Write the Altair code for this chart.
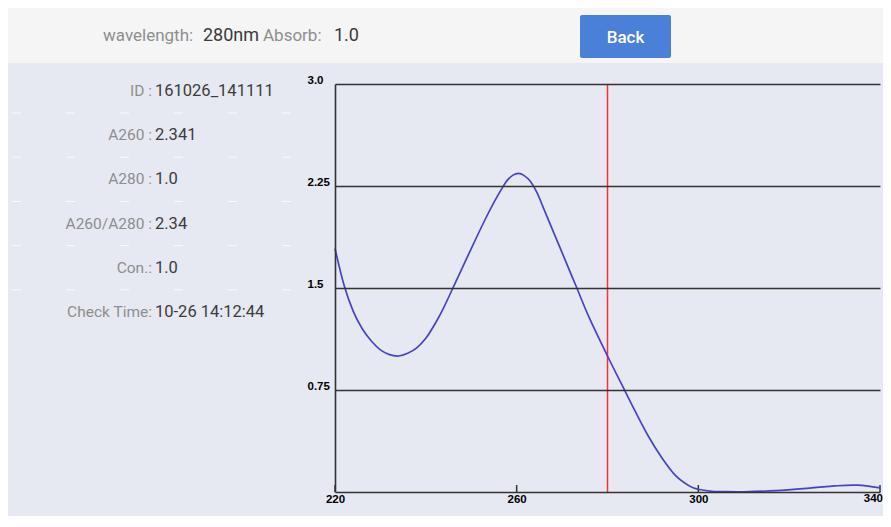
import altair as alt
import pandas as pd

# ---------------- data ----------------
wavelength = [220, 222, 224, 226, 228, 230, 232, 234, 236, 238,
              240, 242, 244, 247, 250, 253, 255, 257, 258, 259.2,
              260.4, 261.5, 263, 264.5, 266, 270, 273, 276, 280, 283,
              286, 289, 292, 295, 298, 300, 303, 305, 310, 317,
              325, 330, 335, 340]
absorbance = [1.79, 1.52, 1.33, 1.2, 1.11, 1.045, 1.01, 1.0, 1.02, 1.06,
              1.13, 1.235, 1.36, 1.575, 1.79, 2.0, 2.13, 2.245, 2.295, 2.33,
              2.343, 2.33, 2.285, 2.2, 2.08, 1.76, 1.52, 1.28, 1.0, 0.8,
              0.6, 0.41, 0.25, 0.12, 0.045, 0.02, 0.005, 0.003, 0.002, 0.01,
              0.03, 0.045, 0.05, 0.03]
x_ticks = [220, 260, 300, 340]
y_ticks = [0.75, 1.5, 2.25, 3.0]
y_tick_labels = ["0.75", "1.5", "2.25", "3.0"]
selected_wavelength = [280]
info_labels = ["ID :", "A260 :", "A280 :", "A260/A280 :", "Con.:", "Check Time:"]
info_values = ["161026_141111", "2.341", "1.0", "2.34", "1.0", "10-26 14:12:44"]
header_wavelength = "280nm"
header_absorb = "1.0"

# ---------------- layout ----------------
PLOT_W, PLOT_H = 545, 408
FONT = "Roboto"
PANEL = "#e6e9f1"
DARK = "#333333"
AXIS_FONT = "Liberation Sans"

curve_df = pd.DataFrame({"wavelength": wavelength, "absorbance": absorbance})
sel_df = pd.DataFrame({"wavelength": selected_wavelength})
tick_df = pd.DataFrame({"tick": x_ticks})
last_tick_df = pd.DataFrame({"tick": x_ticks[-1:], "label": [str(x_ticks[-1])]})
dummy = pd.DataFrame({"a": [0]})

x_scale = alt.Scale(domain=[220, 340], nice=False, zero=False)
y_scale = alt.Scale(domain=[0, 3], nice=False)

y_label_expr = " : ".join(
    f"datum.value == {v} ? '{t}'" for v, t in zip(y_ticks, y_tick_labels)
) + " : ''"
x_label_expr = f"datum.value == {x_ticks[-1]} ? '' : format(datum.value, 'd')"

layers = []

# panel background
layers.append(
    alt.Chart(dummy).mark_rect(color=PANEL).encode(
        x=alt.value(-327), x2=alt.value(548), y=alt.value(-21), y2=alt.value(440)
    )
)


def txt(text, x, y, color, size=16, weight="normal", align="left", font=FONT):
    return alt.Chart(dummy).mark_text(
        text=text, align=align, baseline="middle", font=font, fontSize=size,
        color=color, fontWeight=weight
    ).encode(x=alt.value(x), y=alt.value(y))


# header texts
layers.append(txt("wavelength:", -232, -48, "#8e8e8e", size=17))
layers.append(txt(header_wavelength, -132, -48, "#3a3a3a", size=18))
layers.append(txt("Absorb:", -72, -48, "#8e8e8e", size=17))
layers.append(txt(header_absorb, -1, -48, "#3a3a3a", size=18))

# back button
layers.append(
    alt.Chart(dummy).mark_rect(color="#4a80d8", cornerRadius=2).encode(
        x=alt.value(245), x2=alt.value(336), y=alt.value(-69), y2=alt.value(-26)
    )
)
layers.append(txt("Back", 290.5, -46, "white", size=17, weight=500, align="center"))

# info rows
for i, (lab, val) in enumerate(zip(info_labels, info_values)):
    yy = 7 + 44.2 * i
    layers.append(txt(lab, -183, yy, "#8e8e8e", size=15.5, align="right"))
    layers.append(txt(val, -180, yy, "#3c3c3c", size=16.5, align="left"))
    if i < len(info_labels) - 1:
        layers.append(
            alt.Chart(dummy).mark_rule(color="white", strokeWidth=1, opacity=0.8,
                                       strokeDash=[9, 45]).encode(
                x=alt.value(-323), x2=alt.value(-30), y=alt.value(yy + 22)
            )
        )

# main curve with axes
curve = alt.Chart(curve_df).mark_line(
    color="#4444c4", strokeWidth=1.7, interpolate="cardinal"
).encode(
    x=alt.X("wavelength:Q", scale=x_scale, title=None,
            axis=alt.Axis(values=x_ticks, labelExpr=x_label_expr, grid=False,
                          tickSize=0, labelPadding=1, labelFont=AXIS_FONT,
                          labelFontWeight="bold", labelFontSize=11.5,
                          labelFlush=False,
                          labelColor="black", domainColor=DARK, domainWidth=1.5,
                          labelBaseline="top", zindex=1)),
    y=alt.Y("absorbance:Q", scale=y_scale, title=None,
            axis=alt.Axis(values=y_ticks, labelExpr=y_label_expr, grid=True,
                          gridColor=DARK, gridWidth=1.6, tickSize=0,
                          labelAlign="left", labelPadding=28,
                          labelBaseline="alphabetic", labelOffset=-1,
                          labelFont=AXIS_FONT, labelFontWeight="bold",
                          labelFontSize=11.5, labelColor="black",
                          domainColor=DARK, domainWidth=1.6, zindex=1)),
)

red = alt.Chart(sel_df).mark_rule(color="#ff3030", strokeWidth=1.5).encode(
    x=alt.X("wavelength:Q", scale=x_scale)
)

ticks = alt.Chart(tick_df).mark_rule(color=DARK, strokeWidth=1.5).encode(
    x=alt.X("tick:Q", scale=x_scale),
    y=alt.value(PLOT_H), y2=alt.value(PLOT_H - 7)
)

# last x label kept inside the chart's right edge
last_label = alt.Chart(last_tick_df).mark_text(
    align="right", baseline="top", font=AXIS_FONT, fontWeight="bold",
    fontSize=11.5, color="black", dx=3
).encode(x=alt.X("tick:Q", scale=x_scale), y=alt.value(PLOT_H + 1), text="label:N")

chart = alt.layer(*layers, red, ticks, curve, last_label).properties(
    width=PLOT_W, height=PLOT_H,
    autosize=alt.AutoSizeParams(type="none"),
    padding={"left": 327, "top": 76, "right": 3, "bottom": 24},
    background="#f5f5f5",
).configure_view(strokeWidth=0)

chart.save("out.html", embed_options={"renderer": "svg", "actions": False})
